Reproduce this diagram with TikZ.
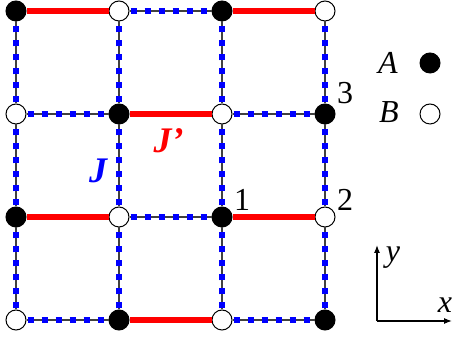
\documentclass[tikz,border=0pt]{standalone}
\usepackage{fontspec}
\setmainfont{Liberation Serif}
\usetikzlibrary{arrows.meta,positioning,calc}

\begin{document}
\begin{tikzpicture}[x=0.5pt, y=0.5pt,
  site/.style={circle, draw=black, line width=0.5pt, minimum size=10pt, inner sep=0pt},
  siteA/.style={site, fill=black},
  siteB/.style={site, fill=white},
  jbond/.style={draw=blue, line width=3.2pt, dash pattern=on 3.1pt off 3.9pt, dash phase=6.5pt,
    preaction={draw=black!75, line width=0.6pt, solid}},
  jpbond/.style={draw=red, line width=2.8pt},
  labtext/.style={font=\fontsize{16}{19}\selectfont, inner sep=0pt},
  couptext/.style={font=\fontsize{18}{21}\selectfont\bfseries\itshape, inner sep=0pt}]
  \useasboundingbox (0,0) rectangle (453,346);
  % lattice sites
  \foreach \i in {0,...,3}
    \foreach \j in {0,...,3} {
      \pgfmathtruncatemacro\parity{mod(\i+\j,2)}
      \ifnum\parity=1
        \node[siteA] (s\i\j) at ({16+103*\i},{26+103*\j}) {};
      \else
        \node[siteB] (s\i\j) at ({16+103*\i},{26+103*\j}) {};
      \fi
    }
  % horizontal bonds
  \foreach \i/\k in {0/1,1/2,2/3}
    \foreach \j in {0,...,3} {
      \pgfmathtruncatemacro\parity{mod(\i+\j,2)}
      \ifnum\parity=1
        \draw[jpbond] (s\i\j) -- (s\k\j);
      \else
        \draw[jbond] (s\i\j) -- (s\k\j);
      \fi
    }
  % vertical bonds
  \foreach \i in {0,...,3}
    \foreach \j/\k in {0/1,1/2,2/3}
      \draw[jbond] (s\i\j) -- (s\i\k);
  % couplings
  \node[couptext, text=blue] (lJ) at ($(s11)!0.5!(s12)+(-21,-5)$) {J};
  \node[couptext, text=red] (lJp) at ($(s12)!0.5!(s22)+(-2,-27)$) {J'};
  % site numbers
  \node[labtext] (n1) at ($(s21)+(20,17)$) {1};
  \node[labtext] (n2) at ($(s31)+(20,17)$) {2};
  \node[labtext] (n3) at ($(s32)+(20,21)$) {3};
  % legend
  \node[labtext] (legA) at (388,283) {\itshape A};
  \node[siteA] (dotA) at (430,283) {};
  \node[labtext] (legB) at (389,234) {\itshape B};
  \node[siteB] (dotB) at (430,232) {};
  % axes
  \coordinate (o) at (377,25);
  \coordinate (oy) at (377,101);
  \coordinate (ox) at (452,25);
  \draw[-{Latex[length=4pt,width=3pt]}, line width=0.6pt] (o) -- (oy);
  \draw[-{Latex[length=4pt,width=3pt]}, line width=0.6pt] (o) -- (ox);
  \node[labtext] (ly) at (393,88) {\itshape y};
  \node[labtext] (lx) at (445,41) {\itshape x};
\end{tikzpicture}
\end{document}
